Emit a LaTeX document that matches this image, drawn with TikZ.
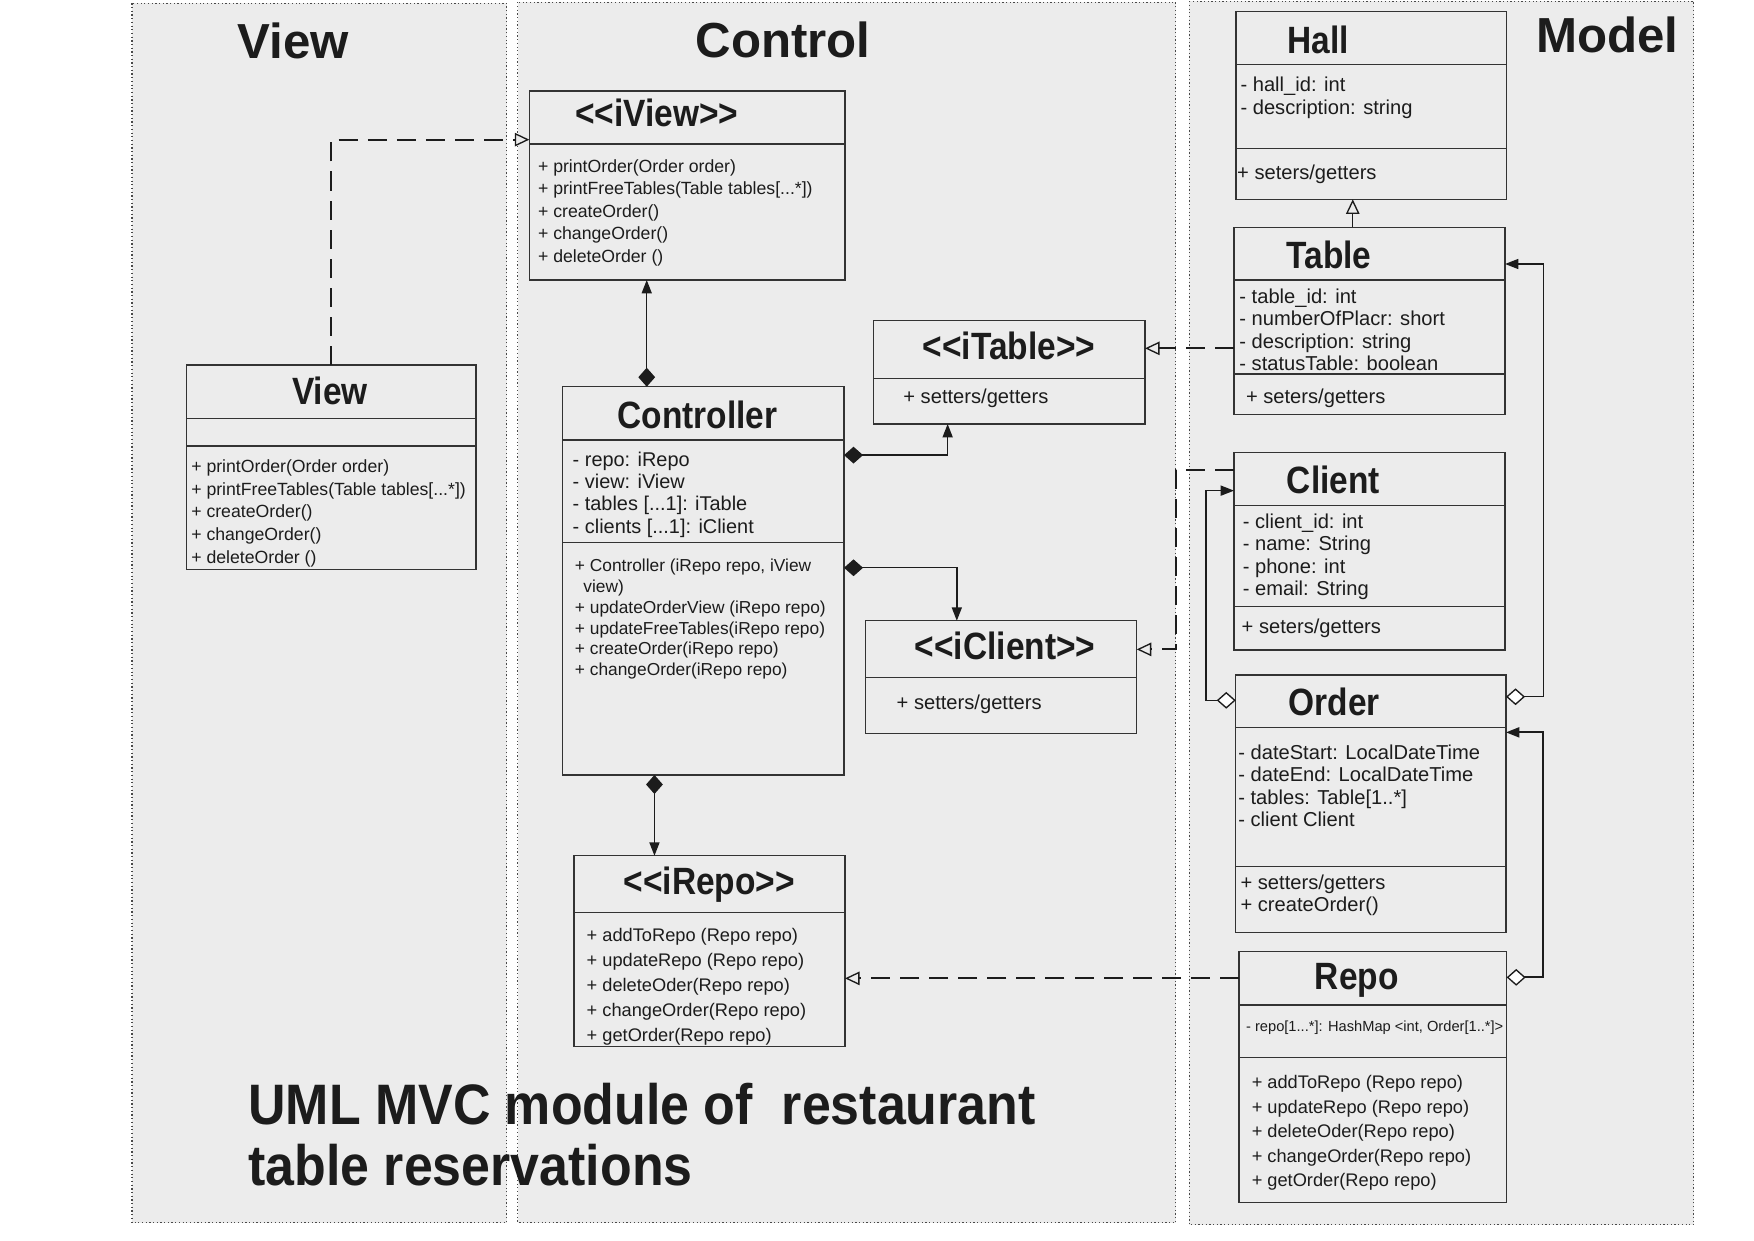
\documentclass[tikz,border=0pt]{standalone}
\usepackage{fontspec}
\setmainfont{Liberation Sans}[Ligatures=TeXOff]
\newfontfamily\condfont{Liberation Sans}[Ligatures=TeXOff,FakeStretch=0.88]
\newfontfamily\capfont{Liberation Sans}[Ligatures=TeXOff,FakeStretch=0.91]
\usetikzlibrary{arrows.meta}

\definecolor{panelgray}{HTML}{ECECEC}
\definecolor{ink}{HTML}{1C1C1C}

\begin{document}
\begin{tikzpicture}[x=1pt, y=-1pt,
  every node/.style={inner sep=0pt, outer sep=0pt, text=ink},
  panel/.style={fill=panelgray, draw=ink!80, line width=1pt, dash pattern=on 1.1pt off 2.2pt},
  cls/.style={draw=ink!90, line width=1.1pt},
  sep/.style={draw=ink!90, line width=1.1pt},
  ptitle/.style={anchor=base, font=\fontsize{44}{50}\selectfont\bfseries},
  ctitle/.style={anchor=base, font=\condfont\fontsize{34}{40}\selectfont\bfseries},
  txt/.style 2 args={anchor=base west, align=left, font=\fontsize{#1}{#2}\selectfont},
  headfill/.tip={Triangle[length=12pt, width=9pt]},
  headopen/.tip={Triangle[open, length=13pt, width=12pt, line width=1.2pt, fill=panelgray]},
  diafill/.tip={Diamond[length=17pt, width=15pt]},
  diaopen/.tip={Diamond[open, length=17pt, width=15pt, line width=1.2pt, fill=white]},
  assoc/.style={draw=ink, line width=1.3pt},
  realize/.style={draw=ink, line width=1.8pt, dash pattern=on 17pt off 9pt, -headopen}]

\useasboundingbox (0,0) rectangle (1568,1109);
\fill[white] (0,0) rectangle (1568,1109);

\draw[panel] (118,3) rectangle (453,1093);
\draw[panel] (463,2) rectangle (1051,1093);
\draw[panel] (1063,1) rectangle (1514,1095);

\node[ptitle] (view-h) at (262,52) {View};
\node[ptitle] (ctrl-h) at (700,51) {Control};
\node[ptitle] (model-h) at (1437,47) {Model};

\node[cls, minimum width=282.2pt, minimum height=168.9pt] (iview) at (614.3,165.85) {};
\node[cls, minimum width=258.5pt, minimum height=182.7pt] (view) at (296.2,417.65) {};
\node[cls, minimum width=251.5pt, minimum height=347.1pt] (ctrl) at (628.75,519.25) {};
\node[cls, minimum width=242.9pt, minimum height=92.3pt] (itable) at (902.15,332.85) {};
\node[cls, minimum width=242.3pt, minimum height=100.7pt] (iclient) at (895.05,605.25) {};
\node[cls, minimum width=242.3pt, minimum height=170.7pt] (irepo) at (634.25,850.35) {};
\node[cls, minimum width=242pt, minimum height=167.8pt] (hall) at (1225.9,94.3) {};
\node[cls, minimum width=242.2pt, minimum height=167.2pt] (table) at (1224.3,286.8) {};
\node[cls, minimum width=242.2pt, minimum height=176.4pt] (client) at (1224.3,492.9) {};
\node[cls, minimum width=241.6pt, minimum height=230.1pt] (order) at (1225.5,718.45) {};
\node[cls, minimum width=239.3pt, minimum height=224.4pt] (repo) at (1227.25,963) {};

\draw[sep] (iview.west |- 0,128.7) -- (iview.east |- 0,128.7);
\draw[sep] (view.west |- 0,374) -- (view.east |- 0,374);
\draw[sep] (view.west |- 0,398.7) -- (view.east |- 0,398.7);
\draw[sep] (ctrl.west |- 0,393.3) -- (ctrl.east |- 0,393.3);
\draw[sep] (ctrl.west |- 0,485.1) -- (ctrl.east |- 0,485.1);
\draw[sep] (itable.west |- 0,338.2) -- (itable.east |- 0,338.2);
\draw[sep] (iclient.west |- 0,605.8) -- (iclient.east |- 0,605.8);
\draw[sep] (irepo.west |- 0,816) -- (irepo.east |- 0,816);
\draw[sep] (hall.west |- 0,57.5) -- (hall.east |- 0,57.5);
\draw[sep] (hall.west |- 0,132.6) -- (hall.east |- 0,132.6);
\draw[sep] (table.west |- 0,250.3) -- (table.east |- 0,250.3);
\draw[sep] (table.west |- 0,334.3) -- (table.east |- 0,334.3);
\draw[sep] (client.west |- 0,452.1) -- (client.east |- 0,452.1);
\draw[sep] (client.west |- 0,542.3) -- (client.east |- 0,542.3);
\draw[sep] (order.west |- 0,650.2) -- (order.east |- 0,650.2);
\draw[sep] (order.west |- 0,774.8) -- (order.east |- 0,774.8);
\draw[sep] (repo.west |- 0,898.4) -- (repo.east |- 0,898.4);
\draw[sep] (repo.west |- 0,945.5) -- (repo.east |- 0,945.5);

\node[ctitle] (iview-t) at (587,113) {<<iView>>};
\node[txt={15.8}{20.1}] (iview-m) at (481,234.6) {+ printOrder(Order order)\\+ printFreeTables(Table tables[...*])\\+ createOrder()\\+ changeOrder()\\+ deleteOrder ()};

\node[ctitle] (view-t) at (295,362) {View};
\node[txt={15.8}{20.25}] (view-m) at (171,503.4) {+ printOrder(Order order)\\+ printFreeTables(Table tables[...*])\\+ createOrder()\\+ changeOrder()\\+ deleteOrder ()};

\node[ctitle] (ctrl-t) at (623.5,383) {Controller};
\node[txt={17.8}{19.9}] (ctrl-a) at (512,476.6) {- repo: iRepo\\- view: iView\\- tables [...1]: iTable\\- clients [...1]: iClient};
\node[txt={15.5}{18.6}] (ctrl-m) at (514,604.1) {+ Controller (iRepo repo, iView\\\hspace*{7.5pt}view)\\+ updateOrderView (iRepo repo)\\+ updateFreeTables(iRepo repo)\\+ createOrder(iRepo repo)\\+ changeOrder(iRepo repo)};

\node[ctitle] (itable-t) at (902,321.8) {<<iTable>>};
\node[txt={18}{20.3}] (itable-m) at (807.6,360.5) {+ setters/getters};

\node[ctitle] (iclient-t) at (898.5,589.4) {<<iClient>>};
\node[txt={18}{20.3}] (iclient-m) at (801.6,634.1) {+ setters/getters};

\node[ctitle] (irepo-t) at (634,800) {<<iRepo>>};
\node[txt={16.3}{22.35}] (irepo-m) at (524.5,930.7) {+ addToRepo (Repo repo)\\+ updateRepo (Repo repo)\\+ deleteOder(Repo repo)\\+ changeOrder(Repo repo)\\+ getOrder(Repo repo)};

\node[ctitle] (hall-t) at (1178.6,47.7) {Hall};
\node[txt={18}{20.3}] (hall-a) at (1109,102.2) {- hall\_id: int\\- description: string};
\node[txt={18}{20.3}] (hall-m) at (1106,160.9) {+ seters/getters};

\node[ctitle] (table-t) at (1188,240) {Table};
\node[txt={18}{20.07}] (table-a) at (1108,331.3) {- table\_id: int\\- numberOfPlacr: short\\- description: string\\- statusTable: boolean};
\node[txt={18}{20.3}] (table-m) at (1113.9,360.5) {+ seters/getters};

\node[ctitle] (client-t) at (1192,441.6) {Client};
\node[txt={18}{20.13}] (client-a) at (1111,532.7) {- client\_id: int\\- name: String\\- phone: int\\- email: String};
\node[txt={18}{20.3}] (client-m) at (1110,566.1) {+ seters/getters};

\node[ctitle] (order-t) at (1192.7,639.2) {Order};
\node[txt={18}{20.07}] (order-a) at (1107,739) {- dateStart: LocalDateTime\\- dateEnd: LocalDateTime\\- tables: Table[1..*]\\- client Client};
\node[txt={18}{20.2}] (order-m) at (1109,815.2) {+ setters/getters\\+ createOrder()};

\node[ctitle] (repo-t) at (1212.8,885) {Repo};
\node[txt={13.1}{16}] (repo-a) at (1114,922.1) {- repo[1...*]: HashMap <int, Order[1..*]>};
\node[txt={16.3}{21.9}] (repo-m) at (1119,1060.9) {+ addToRepo (Repo repo)\\+ updateRepo (Repo repo)\\+ deleteOder(Repo repo)\\+ changeOrder(Repo repo)\\+ getOrder(Repo repo)};

\draw[realize] (view.north) |- ([yshift=41pt]iview.west);
\draw[assoc, diafill-headfill] ([xshift=-50.6pt]ctrl.north) -- ([xshift=-50.6pt]ctrl.north |- iview.south);
\draw[assoc, diafill-headfill] ([yshift=112.4pt]ctrl.east) -| ([xshift=-55pt]itable.south);
\draw[assoc, diafill-headfill] ([yshift=11.7pt]ctrl.east) -| ([xshift=-39.7pt]iclient.north);
\draw[assoc, diafill-headfill] ([xshift=-43.7pt]ctrl.south) -- ([xshift=-43.7pt]ctrl.south |- irepo.north);
\draw[realize] ([yshift=-24.6pt]table.west) -- ([yshift=-24.6pt]table.west -| itable.east);
\draw[realize] ([yshift=72.9pt]client.west) -- ++(-52,0) |- ([yshift=24.75pt]iclient.east);
\draw[assoc, -headopen] ([xshift=-15pt]table.north) -- ([xshift=-15pt]table.north |- hall.south);
\draw[assoc, diaopen-headfill] ([yshift=92.4pt]order.west) -- ++(-26.7,0) |- ([yshift=54.3pt]client.west);
\draw[assoc, diaopen-headfill] ([yshift=95.6pt]order.east) -- ++(33.4,0) |- ([yshift=50.8pt]table.east);
\draw[assoc, line width=1.9pt, diaopen-headfill] ([yshift=89.3pt]repo.east) -- ++(32.8,0) |- ([yshift=63.75pt]order.east);
\draw[realize] ([yshift=88.4pt]repo.west) -- ([yshift=88.4pt]repo.west -| irepo.east);

\node[anchor=base west, align=left, font=\capfont\fontsize{51}{55}\selectfont\bfseries] (caption) at (222,1060) {UML MVC module of~ restaurant\\table reservations};
\end{tikzpicture}
\end{document}
